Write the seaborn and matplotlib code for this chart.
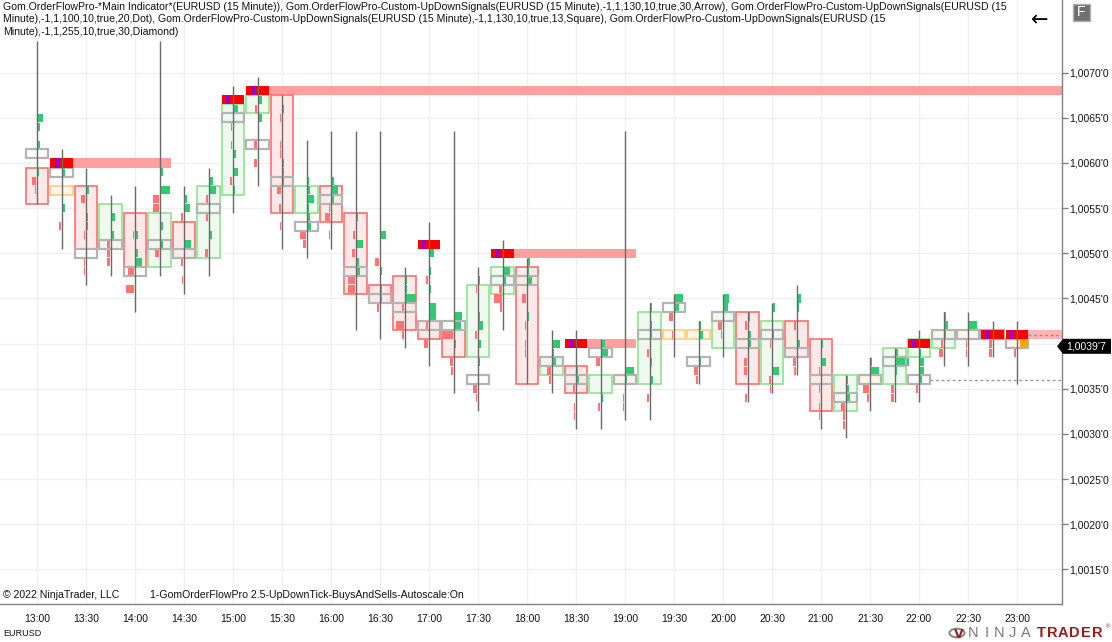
import matplotlib
matplotlib.use("Agg")
import matplotlib.pyplot as plt
import seaborn as sns
from matplotlib.patches import Rectangle, Polygon, Circle
from matplotlib.ticker import FuncFormatter

# ============================================================
# DATA (15 minute bars, prices on 1 pip cells)
# ============================================================
time_labels = ["13:00", "13:30", "14:00", "14:30", "15:00", "15:30", "16:00",
               "16:30", "17:00", "17:30", "18:00", "18:30", "19:00", "19:30",
               "20:00", "20:30", "21:00", "21:30", "22:00", "22:30", "23:00"]

opens = [1.0059, 1.0057, 1.0057, 1.0051, 1.0054, 1.0049, 1.0053, 1.0050, 1.0057, 1.0066,
         1.0067, 1.0055, 1.0057, 1.0054, 1.0046, 1.0047, 1.0042, 1.0041, 1.0039, 1.0046,
         1.0048, 1.0037, 1.0037, 1.0035, 1.0036, 1.0036, 1.0041, 1.0041, 1.0040, 1.0043,
         1.0036, 1.0042, 1.0040, 1.0033, 1.0036, 1.0036, 1.0039, 1.0040, 1.0041, 1.0041,
         1.0040]
highs = [1.0073, 1.0061, 1.0059, 1.0056, 1.0057, 1.0073, 1.0057, 1.0059, 1.0068, 1.0069,
         1.0067, 1.0062, 1.0063, 1.0063, 1.0063, 1.0048, 1.0053, 1.0063, 1.0048, 1.0051,
         1.0049, 1.0041, 1.0041, 1.0040, 1.0063, 1.0044, 1.0045, 1.0042, 1.0045, 1.0043,
         1.0044, 1.0046, 1.0040, 1.0036, 1.0038, 1.0039, 1.0041, 1.0043, 1.0043, 1.0042,
         1.0042]
lows = [1.0056, 1.0051, 1.0047, 1.0048, 1.0044, 1.0048, 1.0046, 1.0048, 1.0055, 1.0058,
        1.0051, 1.0050, 1.0051, 1.0042, 1.0041, 1.0040, 1.0038, 1.0035, 1.0033, 1.0042,
        1.0036, 1.0035, 1.0031, 1.0031, 1.0032, 1.0032, 1.0039, 1.0036, 1.0039, 1.0034,
        1.0035, 1.0037, 1.0031, 1.0030, 1.0033, 1.0034, 1.0034, 1.0038, 1.0038, 1.0039,
        1.0036]
closes = [1.0056, 1.0057, 1.0051, 1.0055, 1.0049, 1.0054, 1.0050, 1.0057, 1.0066, 1.0067,
          1.0055, 1.0057, 1.0054, 1.0046, 1.0045, 1.0042, 1.0041, 1.0039, 1.0046, 1.0048,
          1.0036, 1.0038, 1.0035, 1.0036, 1.0036, 1.0043, 1.0041, 1.0041, 1.0043, 1.0036,
          1.0042, 1.0039, 1.0033, 1.0036, 1.0036, 1.0039, 1.0040, 1.0041, 1.0041, 1.0041,
          1.0040]
pocs = [1.0061, 1.0059, 1.0050, 1.0051, 1.0048, 1.0051, 1.0050, 1.0055, 1.0065, 1.0062,
        1.0058, 1.0053, 1.0056, 1.0048, 1.0045, 1.0044, 1.0042, 1.0042, 1.0036, 1.0047,
        1.0047, 1.0038, 1.0036, 1.0039, 1.0036, 1.0041, 1.0044, 1.0038, 1.0043, 1.0040,
        1.0041, 1.0039, 1.0036, 1.0034, 1.0036, 1.0038, 1.0036, 1.0041, 1.0041, 1.0041,
        1.0040]

# buy (+) / sell (-) ticks per price cell, per bar
deltas = [
    [(1.0065, 4), (1.0064, 2), (1.0062, 2), (1.0059, 1), (1.0058, -3), (1.0057, -1)],
    [(1.0059, 2), (1.0055, 2), (1.0053, -1)],
    [(1.0057, 2), (1.0056, -3), (1.0054, 1), (1.0053, 1), (1.0052, -1), (1.0049, -1), (1.0048, -1)],
    [(1.0054, 3), (1.0052, 2), (1.0051, -2), (1.0050, -2), (1.0049, -2)],
    [(1.0052, -1), (1.0052, 2), (1.0050, 2), (1.0049, 5), (1.0048, -5), (1.0046, -6)],
    [(1.0059, 2), (1.0057, 7), (1.0056, -4), (1.0055, -4), (1.0053, 2), (1.0051, 2), (1.0050, -3)],
    [(1.0056, 2), (1.0055, 4), (1.0054, -2), (1.0051, 5), (1.0049, -2), (1.0047, -1)],
    [(1.0058, 3), (1.0057, 5), (1.0056, -1), (1.0054, -1), (1.0052, 2), (1.0050, -2)],
    [(1.0066, 3), (1.0064, -1), (1.0062, -1), (1.0061, 2), (1.0059, 3), (1.0058, -2), (1.0057, 1)],
    [(1.0067, 3), (1.0066, -1), (1.0065, 3), (1.0062, -2), (1.0060, -2)],
    [(1.0066, 1), (1.0065, -1), (1.0062, -1), (1.0061, -1), (1.0060, 1), (1.0059, 1),
     (1.0058, 1), (1.0057, -3), (1.0055, -2), (1.0053, -1)],
    [(1.0058, 1), (1.0057, 2), (1.0056, 5), (1.0055, 1), (1.0054, 2), (1.0053, 3),
     (1.0052, -4), (1.0051, -2)],
    [(1.0058, 2), (1.0057, 5), (1.0056, 2), (1.0055, -1), (1.0054, -4), (1.0052, -1)],
    [(1.0054, 1), (1.0052, -1), (1.0051, 5), (1.0050, -2), (1.0049, 2), (1.0048, 3),
     (1.0047, -5), (1.0046, -5)],
    [(1.0052, 4), (1.0049, -3), (1.0048, 1), (1.0046, 1), (1.0045, 1), (1.0044, -2)],
    [(1.0047, 1), (1.0046, 1), (1.0045, 8), (1.0044, -1), (1.0042, -6), (1.0041, -1)],
    [(1.0050, 3), (1.0048, 1), (1.0047, -2), (1.0046, 1), (1.0044, 5), (1.0043, 5),
     (1.0042, -2), (1.0040, -3)],
    [(1.0043, 6), (1.0042, 5), (1.0041, -7), (1.0040, 1), (1.0038, -2), (1.0037, -1)],
    [(1.0047, 1), (1.0046, -1), (1.0043, 1), (1.0042, 3), (1.0041, -2), (1.0040, 2),
     (1.0038, 1), (1.0035, -3), (1.0034, -1)],
    [(1.0048, 5), (1.0047, 2), (1.0046, -2), (1.0045, -6), (1.0044, -1)],
    [(1.0049, 2), (1.0048, 1), (1.0047, 3), (1.0045, -3), (1.0043, 1), (1.0042, -1),
     (1.0040, -1), (1.0039, -1)],
    [(1.0040, 6), (1.0039, 1), (1.0038, 3), (1.0037, -3), (1.0036, -1)],
    [(1.0037, 1), (1.0036, 2), (1.0035, -2), (1.0033, -1), (1.0032, -1)],
    [(1.0040, 3), (1.0039, 5), (1.0038, -3), (1.0034, 1), (1.0033, -1)],
    [(1.0037, 6), (1.0036, 1), (1.0034, -1), (1.0033, -1)],
    [(1.0044, 1), (1.0042, 1), (1.0041, 1), (1.0039, -1), (1.0038, 1), (1.0036, 2), (1.0034, -1)],
    [(1.0045, 6), (1.0044, 3), (1.0043, -3), (1.0041, -1)],
    [(1.0042, 1), (1.0041, 3), (1.0038, 1), (1.0037, -3), (1.0036, -1)],
    [(1.0045, 4), (1.0044, 3), (1.0042, -3), (1.0041, -1)],
    [(1.0043, 1), (1.0042, -1), (1.0041, 2), (1.0040, 2), (1.0038, -2), (1.0037, -2), (1.0034, -1)],
    [(1.0044, 2), (1.0041, 1), (1.0040, -1), (1.0037, 5), (1.0036, -2), (1.0035, -1)],
    [(1.0045, 3), (1.0044, 1), (1.0042, -1), (1.0040, 2), (1.0038, -2), (1.0037, -1)],
    [(1.0040, 1), (1.0038, 3), (1.0037, -1), (1.0035, -1), (1.0033, -1), (1.0032, -1)],
    [(1.0036, 1), (1.0035, 2), (1.0034, 3), (1.0033, -3), (1.0032, -1), (1.0031, -1)],
    [(1.0038, 1), (1.0037, 6), (1.0035, -5), (1.0034, -2)],
    [(1.0039, 2), (1.0038, 10), (1.0037, 1), (1.0035, -2), (1.0034, -2)],
    [(1.0039, 1), (1.0038, 3), (1.0037, 3), (1.0036, 2), (1.0035, -2)],
    [(1.0043, 1), (1.0042, 3), (1.0041, 1), (1.0040, -1), (1.0039, -3)],
    [(1.0042, 6), (1.0040, -1), (1.0039, -1)],
    [(1.0040, -2), (1.0039, -2)],
    [(1.0041, 2), (1.0039, -2)],
]

# signals: bar index, price level
signal_bars = [1, 8, 9, 16, 19, 22, 36, 39, 40]
signal_levels = [1.0060, 1.0067, 1.0068, 1.0051, 1.0050, 1.0040, 1.0040, 1.0041, 1.0041]

# pink zones: start bar, end bar (None = right edge), price level
zone_start = [1, 9, 19, 22, 40]
zone_end = [5, None, 24, 24, None]
zone_level = [1.0060, 1.0068, 1.0050, 1.0040, 1.0041]

last_price_text = "1,0039'7"
last_price = 1.00397
y_ticks = [1.0015, 1.0020, 1.0025, 1.0030, 1.0035, 1.0040, 1.0045,
           1.0050, 1.0055, 1.0060, 1.0065, 1.0070]

header = [
    "Gom.OrderFlowPro-*Main Indicator*(EURUSD (15 Minute)), Gom.OrderFlowPro-Custom-UpDownSignals(EURUSD (15 Minute),-1,1,130,10,true,30,Arrow), Gom.OrderFlowPro-Custom-UpDownSignals(EURUSD (15",
    "Minute),-1,1,100,10,true,20,Dot), Gom.OrderFlowPro-Custom-UpDownSignals(EURUSD (15 Minute),-1,1,130,10,true,13,Square), Gom.OrderFlowPro-Custom-UpDownSignals(EURUSD (15",
    "Minute),-1,1,255,10,true,30,Diamond)",
]

# ============================================================
# STYLE
# ============================================================
sns.set_theme(style="white")
plt.rcParams['font.family'] = ['Liberation Sans', 'DejaVu Sans']

W, H = 1112, 642
PIP = 0.0001
HALF = 0.45          # half body width in bars
UNIT = 0.055         # width of one delta unit in bars

fig = plt.figure(figsize=(W / 100, H / 100), dpi=100)
ax = fig.add_axes([0, 38 / H, 1062 / W, 604 / H])

px_per_price = 90300
ax.set_xlim(-37 / 24.5, (1062 - 37) / 24.5)
ax.set_ylim(1.0070 - (604 - 72.7) / px_per_price, 1.0070 + 72.7 / px_per_price)
x_right = ax.get_xlim()[1]

# grid + axes
ax.set_xticks(range(0, 41, 2))
ax.set_xticklabels(time_labels)
ax.set_yticks(y_ticks)
ax.yaxis.tick_right()
ax.yaxis.set_major_formatter(FuncFormatter(
    lambda v, p: "" if abs(v - 1.0040) < 1e-6 else f"{v:.4f}".replace(".", ",") + "'0"))
ax.tick_params(axis='both', direction='out', length=4, width=1, color='#808080',
               labelsize=7.5, labelcolor='#111111', pad=1)
ax.tick_params(axis='x', pad=3)
ax.grid(True, color='#f0f0f0', lw=1)
ax.set_axisbelow(True)
for s in ['top', 'left']:
    ax.spines[s].set_visible(False)
for s in ['right', 'bottom']:
    ax.spines[s].set_color('#808080')
    ax.spines[s].set_linewidth(1)

# ============================================================
# ZONES
# ============================================================
for s, e, lvl in zip(zone_start, zone_end, zone_level):
    x0 = s + HALF
    x1 = (e + HALF) if e is not None else x_right
    alpha = 0.75 if s == 40 else 0.95
    ax.add_patch(Rectangle((x0, lvl - PIP / 2), x1 - x0, PIP, facecolor='#ff9a9a',
                           edgecolor='none', alpha=alpha, zorder=1))

# ============================================================
# CANDLES
# ============================================================
for i in range(len(opens)):
    o, h, l, c = opens[i], highs[i], lows[i], closes[i]
    if c > o:
        fc, ec = '#eff9ef', '#8fe38f'
    elif c < o:
        fc, ec = '#ffe8e8', '#ff6e6e'
    else:
        fc, ec = '#fff6ea', '#ffcd78'
    bot = min(o, c) - PIP / 2
    ax.add_patch(Rectangle((i - HALF, bot), 2 * HALF, abs(o - c) + PIP,
                           facecolor=fc, edgecolor=ec, lw=1.2, zorder=2))

    for lvl, d in deltas[i]:
        w = abs(d) * UNIT
        x0 = i + 0.03 if d > 0 else i - 0.03 - w
        col = '#2ecc71' if d > 0 else '#ff7373'
        ax.add_patch(Rectangle((x0, lvl - PIP * 0.45), w, PIP * 0.9,
                               facecolor=col, edgecolor='none', zorder=3))

    ax.add_patch(Rectangle((i - HALF, pocs[i] - PIP / 2), 2 * HALF, PIP,
                           facecolor='none', edgecolor='#b4b4b4', lw=1.6, zorder=5))

# last bar live cell
ax.add_patch(Rectangle((40 + 0.12, closes[40] - PIP / 2), HALF - 0.12, PIP,
                       facecolor='#ffa500', edgecolor='none', zorder=5.5))

# signals
for b, lvl in zip(signal_bars, signal_levels):
    ax.add_patch(Rectangle((b - HALF, lvl - PIP / 2), 2 * HALF, PIP,
                           facecolor='#ff0000', edgecolor='none', zorder=6))
    ax.add_patch(Rectangle((b - 0.28, lvl - PIP / 2), 0.16, PIP,
                           facecolor='#9900cc', edgecolor='none', zorder=6.5))

# wicks
ax.vlines(range(len(opens)), [v - PIP / 2 for v in lows], [v + PIP / 2 for v in highs],
          colors='#6a6a6a', lw=1, zorder=7)

# dotted lines
ax.hlines(pocs[36], 36 + HALF, x_right, colors='#999999', lw=1,
          linestyles=(0, (2, 2)), zorder=4)
ax.hlines(zone_level[-1], 40 + HALF, x_right, colors='#b08080', lw=1,
          linestyles=(0, (2, 2)), zorder=4)


# ============================================================
# TEXT / DECORATIONS (figure pixel coords, top-left origin)
# ============================================================
def fp(x, y):
    return x / W, 1 - y / H


for k, line in enumerate(header):
    fig.text(*fp(3, 2 + 12.5 * k), line, fontsize=7.6, va='top', ha='left', color='#111111')

fig.text(*fp(3, 595), "© 2022 NinjaTrader, LLC", fontsize=7.6, va='center', color='#111111')
fig.text(*fp(150, 595), "1-GomOrderFlowPro 2.5-UpDownTick-BuysAndSells-Autoscale:On",
         fontsize=7.6, va='center', color='#111111')
fig.text(*fp(3, 633), "EURUSD", fontsize=6.5, va='center', color='#111111')

# price label
ypix = 72.7 + (1.0070 - last_price) * px_per_price
pts = [fp(1057, ypix), fp(1063, ypix - 7.5), fp(1111, ypix - 7.5),
       fp(1111, ypix + 7.5), fp(1063, ypix + 7.5)]
fig.patches.append(Polygon(pts, closed=True, facecolor='black', edgecolor='none',
                           transform=fig.transFigure, figure=fig, zorder=10))
fig.text(*fp(1066, ypix), last_price_text, fontsize=7.5, color='white',
         va='center', ha='left', zorder=11)

# F button and arrow
x0, y0 = fp(1073, 21)
fig.patches.append(Rectangle((x0, y0), 17 / W, 17 / H, facecolor='#707070',
                             edgecolor='#b0b0b0', lw=1, transform=fig.transFigure,
                             figure=fig, zorder=10))
fig.text(*fp(1081.5, 12.5), "F", fontsize=10, color='white', ha='center', va='center', zorder=11)
fig.text(*fp(1040, 20), "←", fontsize=15, color='black', ha='center', va='center',
         family='DejaVu Sans')

# NinjaTrader logo
fig.patches.append(Circle(fp(957, 633), 7.5 / W, facecolor='none', edgecolor='#8a8a8a',
                          lw=1.5, transform=fig.transFigure, figure=fig))
fig.text(*fp(959, 634), "V", fontsize=9, color='#a01c1c', ha='center', va='center',
         fontweight='bold', family='DejaVu Sans')
for k, ch in enumerate("NINJA"):
    fig.text(*fp(973 + 13.2 * k, 633), ch, fontsize=10.5, color='#777777',
             ha='center', va='center', fontweight='light')
for k, ch in enumerate("TRADER"):
    fig.text(*fp(1041 + 11.2 * k, 633), ch, fontsize=10.5, color='#9b1b1b',
             ha='center', va='center', fontweight='bold')
fig.text(*fp(1108.5, 627), "®", fontsize=4.5, color='#9b1b1b', ha='center', va='center')

fig.savefig("out.png", dpi=100)
